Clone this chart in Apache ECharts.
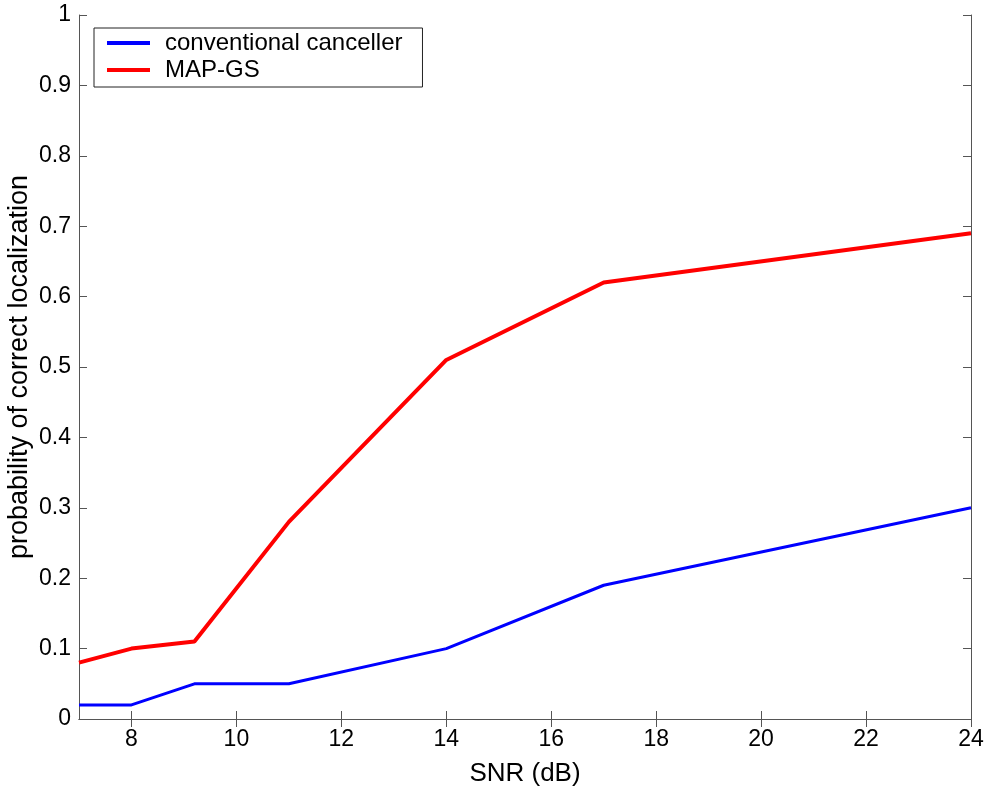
<!DOCTYPE html>
<html lang="en">
<head>
	<meta charset="UTF-8">
	<title>SNR chart</title>
	<script src="https://cdn.jsdelivr.net/npm/echarts@6/dist/echarts.min.js"></script>
</head>
<body style="margin:0;background:#fff;">
	<div id="main" style="width:988px;height:786px;"></div>
<script type="text/javascript">
	// data
	let snr = [7, 8, 9.2, 11, 14, 17, 24];
	let conventional = [0.02, 0.02, 0.05, 0.05, 0.10, 0.19, 0.30];
	let mapGs = [0.08, 0.10, 0.11, 0.28, 0.51, 0.62, 0.69];
	let xTicks = [8, 10, 12, 14, 16, 18, 20, 22, 24];

	function pairs(xs, ys) {
		return xs.map(function (x, i) { return [x, ys[i]]; });
	}

	let font = 'Liberation Sans, Arial, sans-serif';
	let frame = '#555';
	let myChart = echarts.init(document.getElementById('main'));

	// 画框两侧都有刻度（仿 matlab box on）
	function xAx(pos, show) {
		return {
			type: 'value', position: pos, min: 7, max: 24,
			name: show ? 'SNR (dB)' : '', nameLocation: 'middle', nameGap: 42,
			nameTextStyle: { fontFamily: font, fontSize: 26, color: '#000' },
			axisLine: { show: true, lineStyle: { color: frame, width: 1 } },
			axisTick: { show: true, inside: true, length: 8, customValues: xTicks, lineStyle: { color: frame } },
			axisLabel: { show: show, customValues: xTicks, margin: 9, fontFamily: font, fontSize: 23, color: '#000' },
			splitLine: { show: false }
		};
	}
	function yAx(pos, show) {
		return {
			type: 'value', position: pos, min: 0, max: 1, interval: 0.1,
			name: show ? 'probability of correct localization' : '', nameLocation: 'middle',
			nameGap: 46, nameMoveOverlap: false,
			nameTextStyle: { fontFamily: font, fontSize: 27, color: '#000' },
			axisLine: { show: true, lineStyle: { color: frame, width: 1 } },
			axisTick: { show: true, inside: true, length: 8, lineStyle: { color: frame } },
			axisLabel: {
				show: show, margin: 8, fontFamily: font, fontSize: 23, color: '#000',
				formatter: function (v) { return +v.toFixed(1) + ''; }
			},
			splitLine: { show: false }
		};
	}

	let option = {
		backgroundColor: '#fff',
		animation: false,
		grid: { left: 79, right: 17, top: 15, bottom: 67, outerBoundsMode: 'none' },
		legend: {
			orient: 'vertical', left: 94, top: 28,
			backgroundColor: '#fff', borderColor: '#222', borderWidth: 1,
			padding: [3, 20, 5, 13],
			itemGap: 3, itemWidth: 43, itemHeight: 4, icon: 'rect',
			textStyle: { fontFamily: font, fontSize: 24, color: '#000', padding: [0, 0, 0, 10] },
			data: ['conventional canceller', 'MAP-GS']
		},
		xAxis: [xAx('bottom', true), xAx('top', false)],
		yAxis: [yAx('left', true), yAx('right', false)],
		series: [
			{
				name: 'conventional canceller', type: 'line', symbol: 'none',
				color: '#0000ff', lineStyle: { width: 3, color: '#0000ff' },
				data: pairs(snr, conventional)
			},
			{
				name: 'MAP-GS', type: 'line', symbol: 'none',
				color: '#ff0000', lineStyle: { width: 4, color: '#ff0000' },
				data: pairs(snr, mapGs)
			}
		]
	};
	myChart.setOption(option);
</script>
</body>
</html>
